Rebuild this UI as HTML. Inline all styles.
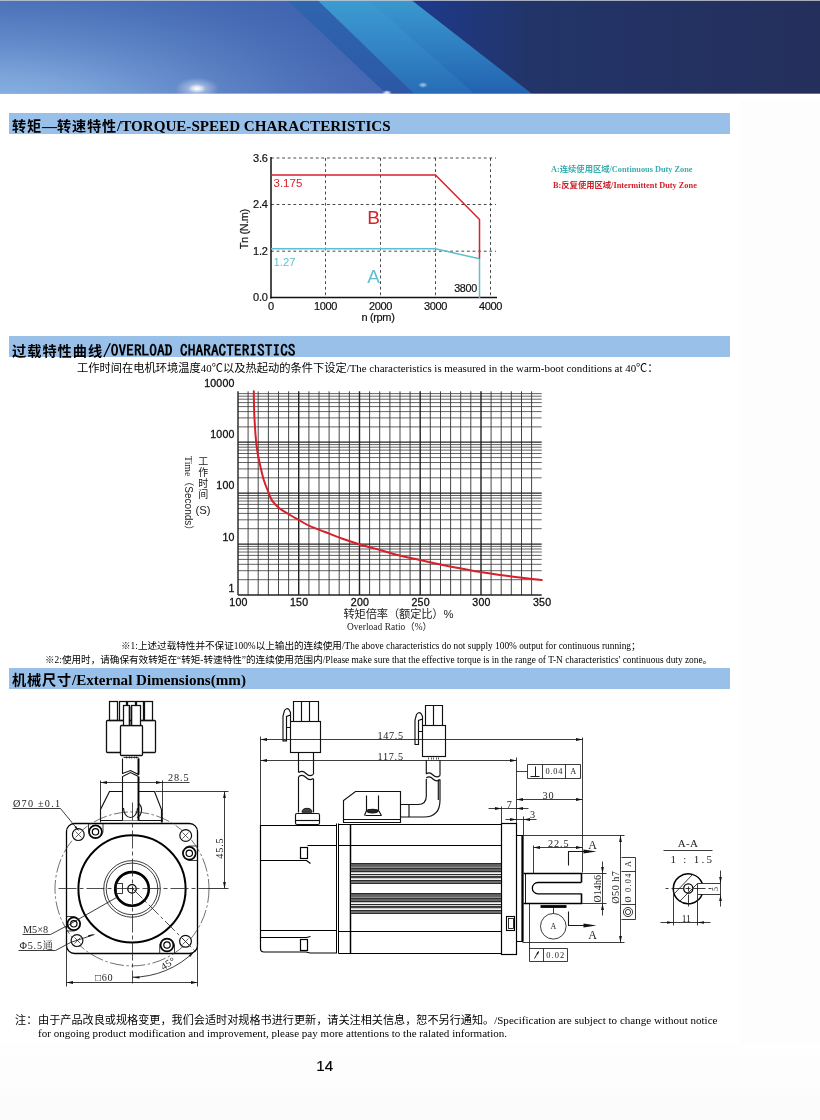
<!DOCTYPE html>
<html lang="zh">
<head>
<meta charset="utf-8">
<title>Torque-Speed Characteristics</title>
<style>
html,body{margin:0;padding:0;background:#fff;}
body{width:820px;height:1120px;position:relative;overflow:hidden;font-family:"Liberation Serif","Noto Sans CJK SC",serif;color:#000;}
#page{position:absolute;left:0;top:0;width:820px;height:1120px;overflow:hidden;will-change:transform;opacity:0.999;}
.abs{position:absolute;white-space:nowrap;line-height:1;}
#bgR{position:absolute;left:740px;top:100px;width:80px;height:1020px;background:#fdfdfd;}
#bgB{position:absolute;left:0;top:1043px;width:820px;height:77px;background:linear-gradient(#fefefe,#fdfdfd 50%,#fafafa);}
.bar{position:absolute;left:9px;width:721px;height:21px;background:#98c0e9;}
.bt{position:absolute;left:3px;top:0;line-height:24px;white-space:nowrap;font-weight:bold;font-size:15.1px;}
.bt .cj{font-family:"Liberation Sans","Noto Sans CJK SC",sans-serif;font-size:14.2px;font-weight:bold;letter-spacing:0.8px;}
.bt.mono{font-family:"IPAGothic","Noto Sans CJK SC",monospace;font-size:15.4px;letter-spacing:0;}
.bt.mono .cj{letter-spacing:1px;font-size:14.2px;}
.cjs{font-family:"Liberation Sans","Noto Sans CJK SC",sans-serif;}
.t11{font-size:10.9px;}
.t11 .cjs{font-size:11.25px;}
.t11.ft{font-size:11.05px;}
.t11.ft .cjs{font-size:11.13px;}
.t9{font-size:9.35px;}
.t9 .cjs{font-size:9.6px;}
.lg{font-size:8.3px;font-weight:bold;}
svg{position:absolute;left:0;top:0;}
svg text{font-family:"Liberation Sans","Noto Sans CJK SC",sans-serif;}
</style>
</head>
<body>
<div id="page">
<div id="bgR"></div>
<div id="bgB"></div>

<!-- HEADER -->
<svg id="hdr" width="820" height="94" viewBox="0 0 820 94">
  <defs>
    <linearGradient id="gL" x1="0" y1="0" x2="0" y2="1">
      <stop offset="0" stop-color="#4166b0"/>
      <stop offset="1" stop-color="#4463b0"/>
    </linearGradient>
    <radialGradient id="gLx" gradientUnits="userSpaceOnUse" cx="0" cy="0" r="1" gradientTransform="translate(-10,118) scale(430,150)">
      <stop offset="0" stop-color="#93bce8" stop-opacity="1"/>
      <stop offset="0.3" stop-color="#84aee0" stop-opacity="0.85"/>
      <stop offset="0.65" stop-color="#6e9ad4" stop-opacity="0.45"/>
      <stop offset="1" stop-color="#5a84c6" stop-opacity="0"/>
    </radialGradient>
    <linearGradient id="gD" x1="0" y1="0" x2="0" y2="1"><stop offset="0" stop-color="#2f66ae"/><stop offset="1" stop-color="#2c58a6"/></linearGradient>
    <linearGradient id="gB" x1="0" y1="0" x2="0" y2="1">
      <stop offset="0" stop-color="#3a99ce"/>
      <stop offset="0.55" stop-color="#2e7cc0"/>
      <stop offset="1" stop-color="#2262b0"/>
    </linearGradient>
    <linearGradient id="gN" x1="0" y1="0" x2="1" y2="0">
      <stop offset="0" stop-color="#1d3a8c"/>
      <stop offset="0.3" stop-color="#223468"/>
      <stop offset="1" stop-color="#252f5c"/>
    </linearGradient>
    <radialGradient id="glow">
      <stop offset="0" stop-color="#fff" stop-opacity="1"/>
      <stop offset="0.35" stop-color="#fff" stop-opacity="0.7"/>
      <stop offset="1" stop-color="#fff" stop-opacity="0"/>
    </radialGradient>
  </defs>
  <rect x="0" y="0" width="820" height="93.5" fill="url(#gL)"/>
  <rect x="0" y="0" width="400" height="93.5" fill="url(#gLx)"/>
  <polygon points="287,0 317.5,0 414,93.5 386,93.5" fill="url(#gD)"/>
  <polygon points="317.5,0 411.5,0 531.5,93.5 414,93.5" fill="url(#gB)"/>
  <polygon points="317.5,0 368,0 474,93.5 414,93.5" fill="#4cb0e0" opacity="0.14"/>
  <polygon points="411.5,0 820,0 820,93.5 531.5,93.5" fill="url(#gN)"/>
  <ellipse cx="197" cy="88.5" rx="22" ry="11" fill="url(#glow)" opacity="0.55"/><ellipse cx="197" cy="88.5" rx="9" ry="4.5" fill="url(#glow)"/>
  <ellipse cx="387" cy="93" rx="5" ry="3" fill="url(#glow)"/>
  <ellipse cx="423" cy="85" rx="5" ry="3" fill="url(#glow)" opacity="0.6"/>
  <rect x="0" y="0" width="820" height="1" fill="#c8ccd4" opacity="0.8"/>
</svg>

<!-- CHART 1 -->
<svg id="c1" width="820" height="340" viewBox="0 0 820 340" style="top:0">
  <g stroke="#333" stroke-width="0.9" stroke-dasharray="2.8,2.8" fill="none">
    <path d="M271,158H496 M271,204.5H496 M271,251.2H496"/>
    <path d="M325.5,158V298 M380.5,158V298 M435.5,158V298 M490.5,158V298"/>
  </g>
  <path d="M271,157V298.4" stroke="#111" stroke-width="1.5" fill="none"/>
  <path d="M270.2,297.6H497" stroke="#111" stroke-width="1.5" fill="none"/>
  <path d="M271,248.8H435.5L479.5,258.8V298" stroke="#5fbfd0" stroke-width="1.5" fill="none" stroke-linejoin="round"/>
  <path d="M271,175H435.5L479.5,219.5V258.5" stroke="#d8232a" stroke-width="1.5" fill="none" stroke-linejoin="round"/>
  <g font-size="11" fill="#111" stroke="#111" stroke-width="0.2" text-anchor="end" letter-spacing="-0.3">
    <text x="267.5" y="161.5">3.6</text>
    <text x="267.5" y="208">2.4</text>
    <text x="267.5" y="254.5">1.2</text>
    <text x="267.5" y="301">0.0</text>
  </g>
  <g font-size="11" fill="#111" stroke="#111" stroke-width="0.2" text-anchor="middle" letter-spacing="-0.35">
    <text x="271" y="309.8">0</text>
    <text x="325.5" y="309.8">1000</text>
    <text x="380.5" y="309.8">2000</text>
    <text x="435.5" y="309.8">3000</text>
    <text x="490.5" y="309.8">4000</text>
    <text x="378" y="320.8">n (rpm)</text>
    <text x="465.5" y="292" font-size="10.8">3800</text>
    <text transform="translate(248,229.2) rotate(-90)" font-size="10.9">Tn (N.m)</text>
  </g>
  <text x="273.5" y="187" font-size="11.5" fill="#d8232a">3.175</text>
  <text x="273.5" y="266" font-size="11.3" fill="#5fbfd0">1.27</text>
  <text x="373.5" y="223.5" font-size="19" fill="#d8232a" text-anchor="middle">B</text>
  <text x="373.5" y="283" font-size="19" fill="#5fbfd0" text-anchor="middle">A</text>
</svg>

<!-- CHART 2 -->
<svg id="c2" width="820" height="310" viewBox="0 370 820 310" style="top:370px">
  <path d="M238,579.7H541.7 M238,570.7H541.7 M238,564.3H541.7 M238,559.4H541.7 M238,555.4H541.7 M238,552H541.7 M238,549H541.7 M238,546.4H541.7 M238,528.7H541.7 M238,519.8H541.7 M238,513.4H541.7 M238,508.5H541.7 M238,504.4H541.7 M238,501H541.7 M238,498.1H541.7 M238,495.5H541.7 M238,477.8H541.7 M238,468.9H541.7 M238,462.5H541.7 M238,457.6H541.7 M238,453.5H541.7 M238,450.1H541.7 M238,447.2H541.7 M238,444.6H541.7 M238,426.9H541.7 M238,417.9H541.7 M238,411.6H541.7 M238,406.6H541.7 M238,402.6H541.7 M238,399.2H541.7 M238,396.2H541.7 M238,393.6H541.7" stroke="#3a3a3a" stroke-width="0.8" fill="none"/>
  <path d="M248.1,391.3V595 M258.2,391.3V595 M268.4,391.3V595 M278.5,391.3V595 M288.6,391.3V595 M308.9,391.3V595 M319,391.3V595 M329.1,391.3V595 M339.2,391.3V595 M349.4,391.3V595 M369.6,391.3V595 M379.7,391.3V595 M389.9,391.3V595 M400,391.3V595 M410.1,391.3V595 M430.3,391.3V595 M440.5,391.3V595 M450.6,391.3V595 M460.7,391.3V595 M470.8,391.3V595 M491.1,391.3V595 M501.2,391.3V595 M511.3,391.3V595 M521.5,391.3V595 M531.6,391.3V595" stroke="#333" stroke-width="0.9" fill="none"/>
  <path d="M238,595H541.7 M238,544.1H541.7 M238,493.1H541.7 M238,442.2H541.7" stroke="#222" stroke-width="1.3" fill="none"/>
  <path d="M238,391.3V595 M298.7,391.3V595 M359.5,391.3V595 M420.2,391.3V595 M481,391.3V595" stroke="#222" stroke-width="1.4" fill="none"/>
  <path d="M253.8,391.2C253.8,394.8 254,405.3 254.2,412.5C254.5,419.7 255.1,428.7 255.5,434.5C255.9,440.3 256.1,442.8 256.8,447.5C257.4,452.2 258.3,457.1 259.5,462.5C260.7,467.9 262.2,474.9 263.8,480C265.3,485.1 267.3,489.5 268.8,493C270.2,496.5 270.6,498.6 272.5,501.2C274.4,503.9 277.1,506.5 280,508.8C282.9,511 286.9,513.1 290,515C293.1,516.9 295.4,518.1 298.8,520C302.1,521.9 305.6,524.2 310,526.2C314.4,528.2 319.6,529.9 325,532C330.4,534.1 336.8,536.7 342.5,538.8C348.2,540.8 353,542.4 359.2,544.2C365.5,546.1 372.8,548 380,550C387.2,552 395.8,554.6 402.5,556.2C409.2,557.9 413.3,558.5 420,560C426.7,561.5 435.4,563.5 442.5,565C449.6,566.5 456.1,567.6 462.5,568.8C468.9,569.9 472.8,570.8 480.8,572C488.7,573.2 499.8,574.9 510,576.2C520.2,577.6 536.5,579.4 541.8,580" stroke="#d8202a" stroke-width="2" fill="none" stroke-linecap="round"/>
  <g font-size="10.6" fill="#111" stroke="#111" stroke-width="0.3" text-anchor="end" letter-spacing="0.15" transform="translate(0,-0.2)"><text x="234.5" y="387.7">10000</text><text x="234.5" y="438.7">1000</text><text x="234.5" y="489.7">100</text><text x="234.5" y="541">10</text><text x="234.5" y="592.2">1</text></g>
  <g font-size="10.6" fill="#111" stroke="#111" stroke-width="0.3" text-anchor="middle" letter-spacing="0.3" transform="translate(0,-0.3)"><text x="238.5" y="606.6">100</text><text x="299.2" y="606.6">150</text><text x="360" y="606.6">200</text><text x="420.7" y="606.6">250</text><text x="481.5" y="606.6">300</text><text x="542.2" y="606.6">350</text></g>
  <g font-size="11" fill="#222" text-anchor="middle">
    <g font-size="10"><text x="203.2" y="465">工</text><text x="203.2" y="476.1">作</text><text x="203.2" y="487.2">时</text><text x="203.2" y="498.3">间</text></g>
    <text x="203" y="514" font-size="11.3">(S)</text>
    <text transform="translate(184.6,456) rotate(90)" text-anchor="start" font-size="9.8" style="font-family:'Liberation Serif','Noto Sans CJK SC',serif">Time<tspan style="font-family:'Liberation Sans','Noto Sans CJK SC',sans-serif" font-size="10">（Seconds）</tspan></text>
    <text x="343.5" y="618.3" font-size="11.3" text-anchor="start" textLength="110">转矩倍率（额定比）%</text>
    <text x="347" y="630.3" font-size="9.4" text-anchor="start" textLength="85" style="font-family:'Liberation Serif','Noto Sans CJK SC',serif">Overload Ratio（%）</text>
  </g>
</svg>

<!-- DRAWING -->
<svg id="dw" width="820" height="320" viewBox="0 690 820 320" style="top:690px">
<style>.dt text{font-family:"Liberation Serif","Noto Serif CJK SC",serif;}</style>
<g id="front">
<g stroke="#111" stroke-width="1.15" fill="none">
<rect x="109.5" y="701.5" width="8" height="19" stroke-width="1.25"/>
<rect x="119.5" y="701.5" width="7" height="19" stroke-width="1.25"/>
<rect x="127.5" y="701.5" width="8" height="19" stroke-width="1.25"/>
<rect x="136.5" y="701.5" width="7" height="19" stroke-width="1.25"/>
<rect x="144.5" y="701.5" width="8" height="19" stroke-width="1.25"/>
<rect x="106.5" y="720.5" width="49" height="32" rx="1" stroke-width="1.3"/>
<rect x="120.5" y="725.5" width="22" height="30" rx="1" fill="#fff" stroke-width="1.3"/>
<rect x="123.5" y="705.5" width="6" height="20" fill="#fff" stroke-width="1.25"/>
<rect x="131.5" y="705.5" width="9" height="20" fill="#fff" stroke-width="1.25"/>
<path d="M129.5,706.5V725.5 M131.5,706.5V725.5" stroke-width="1.4"/>
<path d="M100.5,821.5V809.5L109.5,791.5H154.5L161.5,809.5V822.5"/>
<path d="M100.5,820.5H162.5"/>
<path d="M122.5,758.5V773.5L130.5,770.5L138.5,774.5V758.5" stroke-width="1.1"/>
<path d="M122.5,820.5V776.5L130.5,772.5L138.5,776.5V820.5Z" fill="#fff" stroke="none"/>
<path d="M122.5,820.5V776.5L130.5,772.5L138.5,776.5" stroke-width="1.1"/>
<path d="M138.5,758.5V774.5 M138.5,776.5V820.5" stroke-width="1.9" stroke="#000"/>
<path d="M123.5,808A7,9.5 0 0 0 137.5,808" stroke-width="1.1"/>
<path d="M138.5,803.5Q142,806 141.5,811T137,817.5" stroke-width="1.1"/>
<path d="M126.5,756.5V758.5 M129.5,756.5V758.5 M131.5,756.5V758.5 M134.5,756.5V758.5 M136.5,756.5V758.5" stroke-width="0.7"/>
<path d="M123.5,757.5H138.5" stroke-width="0.8"/>
</g>
<rect x="66.5" y="823.5" width="131" height="130" rx="8" ry="8" stroke="#000" stroke-width="1.3" fill="none"/>
<circle cx="132" cy="888.9" r="53.6" stroke="#000" stroke-width="2" fill="none"/>
<circle cx="132" cy="888.9" r="77" stroke="#333" stroke-width="0.7" fill="none" stroke-dasharray="14,2.5,2.5,2.5"/>
<circle cx="132" cy="888.9" r="28.3" stroke="#1a1a1a" stroke-width="0.85" fill="none"/>
<circle cx="132" cy="888.9" r="25.8" stroke="#1a1a1a" stroke-width="0.85" fill="none"/>
<circle cx="132" cy="888.9" r="16.8" stroke="#000" stroke-width="2.6" fill="none"/>
<circle cx="132" cy="888.9" r="4.2" stroke="#000" stroke-width="1.3" fill="#fff"/>
<rect x="116.5" y="883.5" width="6" height="10" stroke="#1a1a1a" stroke-width="0.85" fill="none" stroke-width="1.2"/>
<path d="M129.5,888.5H134.5 M132.5,886.5V891.5" stroke="#1a1a1a" stroke-width="0.85" fill="none"/>
<path d="M58.5,888.5H206.5" stroke="#222" stroke-width="0.8" fill="none" stroke-dasharray="18,3,4,3"/>
<path d="M132.5,802.5V983.5" stroke="#222" stroke-width="0.8" fill="none" stroke-dasharray="18,3,4,3"/>
<circle cx="78.3" cy="834.6" r="5.9" stroke="#111" stroke-width="1.2" fill="#fff"/>
<path d="M75.5,831.5L81.5,837.5 M75.5,837.5L81.5,831.5" stroke="#222" stroke-width="0.7"/>
<circle cx="185.7" cy="835.5" r="5.9" stroke="#111" stroke-width="1.2" fill="#fff"/>
<path d="M182.5,832.5L188.5,838.5 M182.5,838.5L188.5,832.5" stroke="#222" stroke-width="0.7"/>
<circle cx="77" cy="940.6" r="5.9" stroke="#111" stroke-width="1.2" fill="#fff"/>
<path d="M74.5,937.5L80.5,943.5 M74.5,943.5L80.5,937.5" stroke="#222" stroke-width="0.7"/>
<circle cx="185.5" cy="941.3" r="5.9" stroke="#111" stroke-width="1.2" fill="#fff"/>
<path d="M182.5,938.5L188.5,944.5 M182.5,944.5L188.5,938.5" stroke="#222" stroke-width="0.7"/>
<circle cx="95.5" cy="831.8" r="6.4" stroke="#000" stroke-width="1.7" fill="#fff"/>
<circle cx="95.5" cy="831.8" r="3.2" stroke="#000" stroke-width="1.2" fill="#fff"/>
<circle cx="189.3" cy="853.3" r="6.4" stroke="#000" stroke-width="1.7" fill="#fff"/>
<circle cx="189.3" cy="853.3" r="3.2" stroke="#000" stroke-width="1.2" fill="#fff"/>
<circle cx="73.8" cy="923.8" r="6.4" stroke="#000" stroke-width="1.7" fill="#fff"/>
<circle cx="73.8" cy="923.8" r="3.2" stroke="#000" stroke-width="1.2" fill="#fff"/>
<circle cx="167" cy="945" r="6.4" stroke="#000" stroke-width="1.7" fill="#fff"/>
<circle cx="167" cy="945" r="3.2" stroke="#000" stroke-width="1.2" fill="#fff"/>
<path d="M88.5,824V832 M103,824V832A7.5,7.5 0 0 1 88.5,832" stroke="#1a1a1a" stroke-width="0.85" fill="none"/>
<path d="M197,846H189A7.5,7.5 0 0 0 189,860.5H197" stroke="#1a1a1a" stroke-width="0.85" fill="none"/>
<path d="M66.5,916.5H74A7.5,7.5 0 0 1 74,931H66.5" stroke="#1a1a1a" stroke-width="0.85" fill="none"/>
<path d="M159.7,953V945A7.5,7.5 0 0 1 174.5,945V953" stroke="#1a1a1a" stroke-width="0.85" fill="none"/>
<path d="M132.5,888.5L197.5,953.5" stroke="#222" stroke-width="0.8" fill="none" stroke-dasharray="14,3,3,3"/>
<g stroke="#1a1a1a" stroke-width="0.85" fill="none">
<path d="M12.5,808.5H60.5L78.5,830.5"/>
<path d="M22.5,934.5H50.5L67.5,925.5 L116.5,897.5"/>
<path d="M18.5,950.5H55.5L70.5,942.5 L94.5,934.5"/>
<path d="M100.5,780.5V822.5 M162.5,780.5V822.5 M100.5,782.5H189.5"/>
<path d="M155.5,791.5H228.5 M224.5,791.5V888.5 M206.5,888.5H228.5"/>
<path d="M66.5,944.5V986.5 M197.5,944.5V986.5 M66.5,982.5H197.5"/>
<path d="M132,977.2 A88.3,88.3 0 0 0 194.44,951.34"/>
</g>
<g fill="#111" stroke="none">
<polygon points="100.5,782.5 107,781.1 107,783.9"/>
<polygon points="162.5,782.5 156,783.9 156,781.1"/>
<polygon points="224.5,791.5 225.9,798 223.1,798"/>
<polygon points="224.5,888.5 223.1,882 225.9,882"/>
<polygon points="66.5,982.5 73,981.1 73,983.9"/>
<polygon points="197.5,982.5 191,983.9 191,981.1"/>
<polygon points="132.5,977.5 139.5,976.5 139.5,978.5"/>
<polygon points="194.44,951.34 190.19,956.99 188.78,955.58"/>
<polygon points="78.5,830.5 74.6,827.25 75.98,826.09"/>
<polygon points="94,934 88.67,936.9 88.05,935.21"/>
</g>
</g>
<g class="dt" font-size="10.2" fill="#222">
<text x="168" y="781" textLength="20.7">28.5</text>
<text x="13" y="807.3" textLength="47" xml:space="preserve">Ø70 ±0.1</text>
<text x="23" y="932.5" textLength="25">M5×8</text>
<text x="19.5" y="949" textLength="33.5">Φ5.5通</text>
<text x="95" y="980.5" textLength="17.5">□60</text>
<text transform="translate(223,858.7) rotate(-90)" textLength="20.3">45.5</text>
<text transform="translate(163.5,970.5) rotate(-32)" textLength="15">45°</text>
</g>

<!--SIDE-->
<g id="side">
<g stroke="#111" stroke-width="1.15" fill="none">
<path d="M293.5,721.5V701.5H318.5V721.5 M301.5,701.5V721.5 M309.5,701.5V721.5"/>
<rect x="290.5" y="721.5" width="30" height="31"/>
<path d="M290.5,727.5H286.5V740.8H283V716L284.5,710.5Q286.5,707.5 289,709.5L290.5,712.5V721.3 M286.5,727.5V716.5L290.5,715"/>
<path d="M298.5,752.5V772.5 M313.5,752.5V774.5 M298.5,776.5V812.5 M313.5,778.5V812.5"/>
<path d="M298.8,772.5Q302.5,770 306,773.5T313,774.5 M298.8,776.5Q302.5,774 306,777.5T313,778.5"/>
<path d="M302,812.3Q302,808.3 307,808.3T312,812.3Z" fill="#444" stroke-width="0.9"/>
<rect x="295.5" y="813.5" width="24" height="11" rx="1.5"/>
<path d="M295.5,820.5H319.5"/>
<path d="M343.5,822.5V800.5L355.5,791.5H400.5V822.5Z"/>
<path d="M343.5,819.5H400.5"/>
<path d="M366.5,795.5V810.5 M378.5,795.5V810.5 M365.5,815.5H381.5 M366.5,810.5L364.5,815.5 M378.5,810.5L381.5,815.5"/>
<ellipse cx="372.5" cy="811" rx="5.5" ry="1.8" fill="#222"/>
<path d="M400.5,804.5H418Q426.3,804.5 426.3,796V779 M400.5,817H424Q440,817 440,800V779.5 M426.3,774V760 M440,775.5V760 M438.3,779.5V800 M409,804.5V817"/>
<path d="M426.3,774Q429.5,771.5 433,775T440,775.5 M426.3,778Q429.5,775.5 433,779T440,779.5"/>
<path d="M428.5,757.5V759.5 M431.5,757.5V759.5 M433.5,757.5V759.5 M436.5,757.5V759.5 M438.5,757.5V759.5" stroke-width="0.7"/>
<path d="M425.5,725.5V705.5H442.5V725.5 M433.5,705.5V725.5"/>
<rect x="422.5" y="725.5" width="23" height="31"/>
<path d="M422.5,731.5H418.5V744.5H415V720L416.5,714.5Q418.5,711.5 421,713.5L422.5,716.5V725.5 M418.5,731.5V720.5L422.5,719"/>
</g>
<g stroke="#000" stroke-width="1.2" fill="none">
<path d="M336.2,825.5H260.5V948.5Q260.5,952 264,952H306L310,953H336.2"/>
<path d="M260.5,860.5H306.5L310.5,863.5 M310.5,845.5H336.5 M307.5,845.5L310.5,845.5"/>
<rect x="300.5" y="847.5" width="7" height="11"/>
<path d="M260.5,930.5H336.5 M260.5,937.5H306.5L310.5,936.5"/>
<rect x="300.5" y="939.5" width="7" height="11"/>
<path d="M336.5,823.5V953.5 M338.5,823.5V953.5" stroke-width="1"/>
<path d="M338.5,824.5H501.5 M338.5,953.5H501.5 M338.5,845.5H501.5 M338.5,931.5H501.5"/>
<path d="M350.5,824.5V953.5" stroke-width="1.5"/>
<rect x="501.5" y="823.5" width="15" height="131"/>
<rect x="506.5" y="916.5" width="8" height="14" stroke-width="1.1"/>
<rect x="508.5" y="918.5" width="5" height="10" stroke-width="0.8"/>
<path d="M516.5,835.5H522.5V941.5H516.5"/>
<path d="M522.5,835.5V941.5" stroke-width="2.2"/>
</g>
<g stroke="none">
<path d="M351,863H501V864H351Z" fill="#2a2a2a"/>
<path d="M351,864H501V865H351Z" fill="#5c5c5c"/>
<path d="M351,865H501V866H351Z" fill="#636363"/>
<path d="M351,866H501V867H351Z" fill="#686868"/>
<path d="M351,867H501V868H351Z" fill="#909090"/>
<path d="M351,868H501V869H351Z" fill="#303030"/>
<path d="M351,869H501V870H351Z" fill="#636363"/>
<path d="M351,870H501V871H351Z" fill="#686868"/>
<path d="M351,871H501V872H351Z" fill="#2a2a2a"/>
<path d="M351,872H501V873H351Z" fill="#c4c4c4"/>
<path d="M351,873H501V874H351Z" fill="#f4f4f4"/>
<path d="M351,874H501V875H351Z" fill="#2a2a2a"/>
<path d="M351,875H501V876H351Z" fill="#d8d8d8"/>
<path d="M351,876H501V877H351Z" fill="#383838"/>
<path d="M351,877H501V878H351Z" fill="#444"/>
<path d="M351,878H501V879H351Z" fill="#c8c8c8"/>
<path d="M351,879H501V880H351Z" fill="#f0f0f0"/>
<path d="M351,880H501V881H351Z" fill="#2a2a2a"/>
<path d="M351,881H501V882H351Z" fill="#6c6c6c"/>
<path d="M351,882H501V883H351Z" fill="#727272"/>
<path d="M351,883H501V884H351Z" fill="#303030"/>
<path d="M351,893H501V894H351Z" fill="#2a2a2a"/>
<path d="M351,894H501V895H351Z" fill="#5c5c5c"/>
<path d="M351,895H501V896H351Z" fill="#636363"/>
<path d="M351,896H501V897H351Z" fill="#686868"/>
<path d="M351,897H501V898H351Z" fill="#909090"/>
<path d="M351,898H501V899H351Z" fill="#303030"/>
<path d="M351,899H501V900H351Z" fill="#636363"/>
<path d="M351,900H501V901H351Z" fill="#686868"/>
<path d="M351,901H501V902H351Z" fill="#2a2a2a"/>
<path d="M351,902H501V903H351Z" fill="#c4c4c4"/>
<path d="M351,903H501V904H351Z" fill="#f4f4f4"/>
<path d="M351,904H501V905H351Z" fill="#2a2a2a"/>
<path d="M351,905H501V906H351Z" fill="#d8d8d8"/>
<path d="M351,906H501V907H351Z" fill="#383838"/>
<path d="M351,907H501V908H351Z" fill="#444"/>
<path d="M351,908H501V909H351Z" fill="#c8c8c8"/>
<path d="M351,909H501V910H351Z" fill="#f0f0f0"/>
<path d="M351,910H501V911H351Z" fill="#2a2a2a"/>
<path d="M351,911H501V912H351Z" fill="#6c6c6c"/>
<path d="M351,912H501V913H351Z" fill="#727272"/>
<path d="M351,913H501V914H351Z" fill="#303030"/>
</g>
<g stroke="#000" stroke-width="1.6" fill="none">
<path d="M523.5,873.5H581.5V882.5 M581.5,893.5V903.5H523.5"/>
<path d="M581.3,882.5H538A5.6,5.6 0 0 0 538,893.8H581.3" stroke-width="1.3"/>
<path d="M525.5,873.5V903.5" stroke-width="0.9"/>
</g>
<g stroke="#1a1a1a" stroke-width="0.85" fill="none">
<path d="M260.5,736.5V825.5 M260.5,739.5H582.5 M260.5,760.5H516.5"/>
<path d="M582.5,737.5V872.5 M516.5,757.5V823.5"/>
<path d="M516.5,771.5H527.5"/>
<path d="M527.5,764.5H580.5V778.5H527.5Z M542.5,764.5V778.5 M565.5,764.5V778.5"/>
<path d="M530.5,776.5H539.5 M535.5,766.5V776.5" stroke-width="1"/>
<path d="M516.5,799.5H582.5"/>
<path d="M488.5,808.5H528.5 M501.5,806.5V823.5 M505.5,819.5H536.5 M523.5,816.5V835.5"/>
<path d="M522.5,835.5H624.5 M522.5,942.5H624.5 M620.5,835.5V942.5"/>
<path d="M533.5,847.5H582.5 M533.5,845.5V873.5"/>
<path d="M568.5,865.5V851.5H586.5 M568.5,911.5V925.5H586.5" stroke-width="1.1"/>
<path d="M581.5,873.5H606.5 M581.5,903.5H606.5 M602.5,861.5V915.5"/>
<path d="M621.5,857.5H635.5V919.5H621.5 M621.5,871.5V871.5 M621.5,871.5H635.5 M621.5,904.5H635.5"/>
<circle cx="628" cy="912" r="4.6"/><circle cx="628" cy="912" r="2.6"/>
<path d="M553.5,907.5V913.5"/>
<circle cx="553.3" cy="926.3" r="12.8"/>
<path d="M529.5,903.5V961.5H567.5V948.5H529.5 M543.5,948.5V961.5"/>
<path d="M534.5,958.5L538.5,951.5" stroke-width="1"/>
</g>
<path d="M540.5,906.5H566.5" stroke="#000" stroke-width="2.8"/>
<g fill="#111" stroke="none">
<polygon points="260.5,739.5 267,738.1 267,740.9"/>
<polygon points="582.5,739.5 576,740.9 576,738.1"/>
<polygon points="260.5,760.5 267,759.1 267,761.9"/>
<polygon points="516.5,760.5 510,761.9 510,759.1"/>
<polygon points="516.5,799.5 523,798.1 523,800.9"/>
<polygon points="582.5,799.5 576,800.9 576,798.1"/>
<polygon points="501.5,808.5 495,809.9 495,807.1"/>
<polygon points="516.5,808.5 523,807.1 523,809.9"/>
<polygon points="516.5,819.5 510,820.9 510,818.1"/>
<polygon points="523.5,819.5 530,818.1 530,820.9"/>
<polygon points="620.5,835.5 621.9,842 619.1,842"/>
<polygon points="620.5,942.5 619.1,936 621.9,936"/>
<polygon points="533.5,847.5 540,846.1 540,848.9"/>
<polygon points="582.5,847.5 576,848.9 576,846.1"/>
<polygon points="602.5,873.5 601.1,867 603.9,867"/>
<polygon points="602.5,903.5 603.9,910 601.1,910"/>
<polygon points="596.5,851.5 583.5,853.5 583.5,849.5"/>
<polygon points="596.5,925.5 583.5,927.5 583.5,923.5"/>
<polygon points="539,951 538.12,954.53 536.38,953.53"/>
</g>
</g>
<g id="aa">
<path d="M663.5,850.5H712.5" stroke="#1a1a1a" stroke-width="0.85" fill="none"/>
<path d="M702.2,883.3A15,15 0 1 0 702.2,894.3" stroke="#000" stroke-width="1.5" fill="none"/>
<path d="M697.5,883.5H720.5 M697.5,894.5H720.5 M697.5,883.5V894.5" stroke="#1a1a1a" stroke-width="0.85" fill="none"/>
<circle cx="688.3" cy="888.5" r="4.6" stroke="#000" stroke-width="1.3" fill="none"/>
<path d="M685.5,888.5H690.5 M688.5,886.5V891.5" stroke="#1a1a1a" stroke-width="0.85" fill="none"/>
<path d="M674.5,893.5L692.5,874.5 M679.5,901.5L697.5,883.5" stroke="#1a1a1a" stroke-width="0.85" fill="none" stroke-width="0.7"/>
<path d="M665.5,888.5H668.5 M671.5,888.5H683.5 M693.5,888.5H705.5 M708.5,888.5H711.5 M688.5,894.5V906.5" stroke="#1a1a1a" stroke-width="0.85" fill="none" stroke-width="0.7"/>
<path d="M720.5,870.5V906.5 M673.5,890.5V925.5 M697.5,894.5V925.5 M660.5,922.5H710.5" stroke="#1a1a1a" stroke-width="0.85" fill="none"/>
<g fill="#111" stroke="none">
<polygon points="720.5,883.5 719.2,877 721.8,877"/>
<polygon points="720.5,894.5 721.8,901 719.2,901"/>
<polygon points="673.5,922.5 667,923.8 667,921.2"/>
<polygon points="697.5,922.5 704,921.2 704,923.8"/>
</g>
</g>
<g class="dt" font-size="10.2" fill="#222">
<text x="377.5" y="738.5" textLength="25.5">147.5</text>
<text x="377.5" y="759.7" textLength="25.5">117.5</text>
<text x="542.5" y="798.5" textLength="11">30</text>
<text x="509.3" y="807.8" text-anchor="middle">7</text>
<text x="532.5" y="817.8" text-anchor="middle">3</text>
<text x="548" y="846.5" textLength="20.5">22.5</text>
<text x="592.5" y="848.5" text-anchor="middle" font-size="12">A</text>
<text x="592.5" y="939" text-anchor="middle" font-size="12">A</text>
<text x="553.3" y="929.3" text-anchor="middle" font-size="8">A</text>
<text x="545.5" y="774.3" font-size="8.4" textLength="17">0.04</text>
<text x="573.2" y="774.3" text-anchor="middle" font-size="8.4">A</text>
<text x="546.3" y="958" font-size="8.4" textLength="18">0.02</text>
<text transform="translate(601.3,902.5) rotate(-90)" font-size="10" textLength="27.5">Ø14h6</text>
<text transform="translate(618.5,903.7) rotate(-90)" font-size="10.2" textLength="32.5" xml:space="preserve">Ø50 h7</text>
<text transform="translate(631,864) rotate(-90)" text-anchor="middle" font-size="8.4">A</text>
<text transform="translate(631,902.5) rotate(-90)" font-size="8.4" textLength="29" xml:space="preserve">Ø 0.04</text>
<text x="688" y="847" text-anchor="middle" font-size="11" letter-spacing="0.3">A-A</text>
<text x="670.5" y="862.5" font-size="11" textLength="41.5" xml:space="preserve">1 : 1.5</text>
<text x="686.3" y="921.5" text-anchor="middle" font-size="9.5">11</text>
<text transform="translate(718,889) rotate(-90)" text-anchor="middle" font-size="8">5</text>
</g>
</svg>
<!-- /DRAWING -->

<!-- SECTION BARS -->
<div class="bar" style="top:113px;height:21.4px"><span class="bt" style="top:0.5px"><span class="cj">转矩</span>—<span class="cj">转速特性</span>/TORQUE-SPEED CHARACTERISTICS</span></div>
<div class="bar" style="top:335.6px"><span class="bt mono" style="top:2px"><span class="cj">过载特性曲线</span>/OVERLOAD CHARACTERISTICS</span></div>
<div class="bar" style="top:668px"><span class="bt" style="top:-0.5px"><span class="cj">机械尺寸</span>/External Dimensions(mm)</span></div>

<!-- TEXT LINES -->
<div class="abs t11" id="sub1" style="left:77px;top:363.2px;"><span class="cjs">工作时间在电机环境温度</span>40<span class="cjs">℃以及热起动的条件下设定</span>/The characteristics is measured in the warm-boot conditions at 40<span class="cjs">℃：</span></div>
<div class="abs t9" id="n1" style="left:121px;top:640.6px;"><span class="cjs">※</span>1:<span class="cjs">上述过载特性并不保证</span>100%<span class="cjs">以上输出的连续使用</span>/The above characteristics do not supply 100% output for continuous running<span class="cjs">；</span></div>
<div class="abs t9" id="n2" style="left:45px;top:655px;"><span class="cjs">※</span>2:<span class="cjs">使用时，请确保有效转矩在</span>“<span class="cjs">转矩</span>-<span class="cjs">转速特性</span>”<span class="cjs">的连续使用范围内</span>/Please make sure that the effective torque is in the range of T-N characteristics' continuous duty zone<span class="cjs">。</span></div>
<div class="abs t11 ft" id="f1" style="left:15px;top:1014.6px;"><span class="cjs">注：</span></div>
<div class="abs t11 ft" id="f2" style="left:38px;top:1014.6px;"><span class="cjs">由于产品改良或规格变更，我们会适时对规格书进行更新，请关注相关信息，恕不另行通知。</span>/Specification are subject to change without notice</div>
<div class="abs t11 ft" id="f3" style="left:38px;top:1027.7px;">for ongoing product modification and improvement, please pay more attentions to the ralated information.</div>
<div class="abs" id="pg" style="left:316.3px;top:1057.8px;font-family:'Liberation Sans',sans-serif;font-size:15.2px;-webkit-text-stroke:0.2px #111;">14</div>
<div class="abs lg" id="lgA" style="left:551px;top:164.5px;color:#3aaeb0;">A:<span class="cjs">连续使用区域</span>/Continuous Duty Zone</div>
<div class="abs lg" id="lgB" style="left:553px;top:181.3px;color:#d0212a;">B:<span class="cjs">反复使用区域</span>/Intermittent Duty Zone</div>

</div>
</body>
</html>
